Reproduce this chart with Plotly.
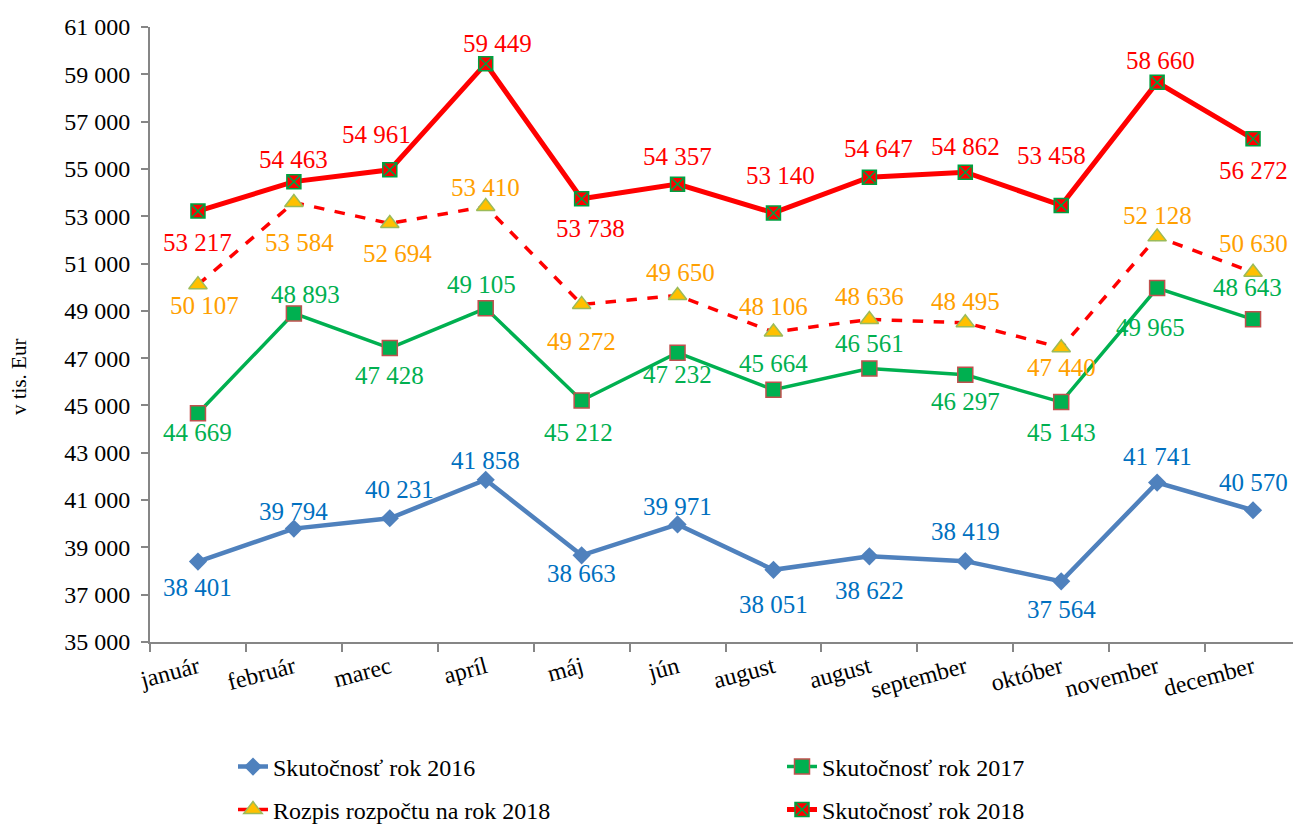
import plotly.graph_objects as go

months = ["január", "február", "marec", "apríl", "máj", "jún", "august", "august",
          "september", "október", "november", "december"]
skut_2016 = [38401, 39794, 40231, 41858, 38663, 39971, 38051, 38622, 38419, 37564, 41741, 40570]
skut_2017 = [44669, 48893, 47428, 49105, 45212, 47232, 45664, 46561, 46297, 45143, 49965, 48643]
rozpis_2018 = [50107, 53584, 52694, 53410, 49272, 49650, 48106, 48636, 48495, 47440, 52128, 50630]
skut_2018 = [53217, 54463, 54961, 59449, 53738, 54357, 53140, 54647, 54862, 53458, 58660, 56272]

# data-label offsets in pixels (dx right, dy up) – placement only
dy_2016 = [-26, 17, 29, 19, -18, 18, -35, -34, 30, -28, 26, 28]
dx_2016 = [0, 0, 10, 0, 0, 0, 0, 0, 0, 0, 0, 0]
dy_2017 = [-19, 19, -27, 24, -32, -22, 26, 25, -27, -30, -39, 32]
dx_2017 = [0, 12, 0, -4, -3, 0, 0, 0, 0, 0, -7, -6]
dy_r2018 = [-21, -40, -30, 19, -37, 23, 25, 23, 21, -20, 21, 29]
dx_r2018 = [7, 6, 8, 0, 0, 3, 0, 0, 0, 0, 0, 0]
dy_2018 = [-31, 22, 35, 20, -30, 28, 37, 29, 26, 50, 22, -32]
dx_2018 = [0, 0, -13, 12, 9, 0, 7, 9, 0, -10, 3, 0]

FONT = "Liberation Serif"
OFF = 8  # page body margin of the browser
W, H = 1301 - OFF, 826 - OFF
ML, MR, MT, MB = 150 - OFF, 0, 27 - OFF, 184
xs = list(range(len(months)))

def fmt(v):
    return f"{v:,}".replace(",", " ")

fig = go.Figure()

fig.add_trace(go.Scatter(
    x=xs, y=skut_2016, mode="lines+markers", name="Skutočnosť rok 2016",
    line=dict(color="#4F81BD", width=4.5),
    marker=dict(symbol="diamond", size=14, color="#4F81BD"),
    legend="legend"))
fig.add_trace(go.Scatter(
    x=xs, y=skut_2017, mode="lines+markers", name="Skutočnosť rok 2017",
    line=dict(color="#00B050", width=3.5),
    marker=dict(symbol="square", size=15, color="#00B050", line=dict(color="#C0504D", width=1.5)),
    legend="legend2"))
fig.add_trace(go.Scatter(
    x=xs, y=rozpis_2018, mode="lines+markers", name="Rozpis rozpočtu na rok 2018",
    line=dict(color="#FF0000", width=3.5, dash="dash"),
    marker=dict(symbol="triangle-up", size=16, color="#FFC000", line=dict(color="#9BBB59", width=1.5)),
    legend="legend3"))
fig.add_trace(go.Scatter(
    x=xs, y=skut_2018, mode="lines+markers", name="Skutočnosť rok 2018",
    line=dict(color="#FF0000", width=5),
    marker=dict(symbol="square-x", size=14, color="#FF0000", line=dict(color="#00A040", width=1.5)),
    legend="legend4"))

annotations = []
def add_labels(vals, dxs, dys, color):
    for i, (v, dx, dy) in enumerate(zip(vals, dxs, dys)):
        annotations.append(dict(x=i, y=v, xref="x", yref="y", text=fmt(v), showarrow=False,
                                xshift=dx, yshift=dy,
                                font=dict(family=FONT, size=25, color=color)))

add_labels(skut_2016, dx_2016, dy_2016, "#0070C0")
add_labels(skut_2017, dx_2017, dy_2017, "#00B050")
add_labels(rozpis_2018, dx_r2018, dy_r2018, "#FFA000")
add_labels(skut_2018, dx_2018, dy_2018, "#FF0000")

# y-axis title
plot_w = W - ML - MR
plot_h = H - MT - MB
annotations.append(dict(text="v tis. Eur", textangle=-90, showarrow=False,
                        xref="paper", yref="paper",
                        x=(19 - OFF - ML) / plot_w, y=(H - MB - (377 - OFF)) / plot_h,
                        xanchor="center", yanchor="middle",
                        font=dict(family=FONT, size=21, color="black")))

def legend_box(px, py):
    return dict(orientation="h", xref="container", yref="container",
                x=(px - OFF) / W, y=1 - (py - OFF) / H, yanchor="middle", xanchor="left",
                font=dict(family=FONT, size=24, color="black"),
                bgcolor="rgba(0,0,0,0)")

fig.update_layout(
    width=W, height=H, showlegend=True,
    paper_bgcolor="white", plot_bgcolor="white",
    margin=dict(l=ML, r=MR, t=MT, b=MB, autoexpand=False),
    separators=", ",
    font=dict(family=FONT, size=20, color="black"),
    annotations=annotations,
    legend=legend_box(233, 767),
    legend2=legend_box(782, 767),
    legend3=legend_box(233, 810),
    legend4=legend_box(782, 810),
)

fig.update_xaxes(
    range=[-0.5, len(months) - 0.5], automargin=False,
    tickvals=xs, ticktext=months, tickangle=-15, ticks="",
    tickfont=dict(family=FONT, size=24, color="black"),
    showline=True, linecolor="#868686", linewidth=2, showgrid=False, zeroline=False,
    minor=dict(tickvals=[i - 0.5 for i in range(len(months) + 1)], ticks="outside",
               ticklen=8, tickcolor="#868686", tickwidth=2, showgrid=False),
)
fig.update_yaxes(
    range=[35000, 61000], dtick=2000, tick0=35000, tickformat=",d", automargin=False,
    ticks="outside", ticklen=7, tickcolor="#868686", tickwidth=2,
    ticklabelstandoff=6,
    tickfont=dict(family=FONT, size=24, color="black"),
    showline=True, linecolor="#868686", linewidth=2, showgrid=False, zeroline=False,
)

fig.write_html("out.html")
